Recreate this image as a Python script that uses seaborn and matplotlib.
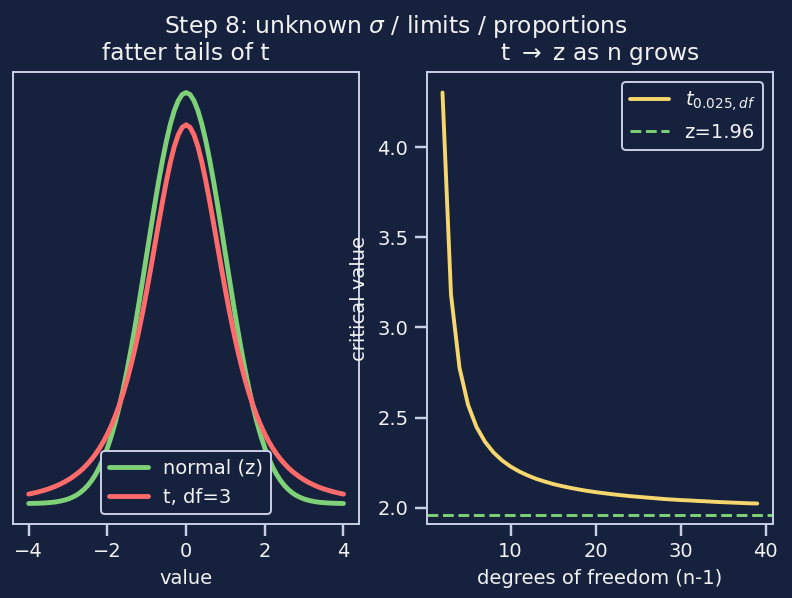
import pandas as pd
import matplotlib.pyplot as plt
import seaborn as sns

# ------------------------------------------------------------------
# Data
# ------------------------------------------------------------------
x_half = [0.0, 0.1, 0.2, 0.3, 0.4, 0.5, 0.6, 0.7, 0.8, 0.9, 1.0,
          1.1, 1.2, 1.3, 1.4, 1.5, 1.6, 1.7, 1.8, 1.9, 2.0,
          2.1, 2.2, 2.3, 2.4, 2.5, 2.6, 2.7, 2.8, 2.9, 3.0,
          3.1, 3.2, 3.3, 3.4, 3.5, 3.6, 3.7, 3.8, 3.9, 4.0]
normal_half = [0.3989, 0.3970, 0.3910, 0.3814, 0.3683, 0.3521, 0.3332, 0.3123,
               0.2897, 0.2661, 0.2420, 0.2179, 0.1942, 0.1714, 0.1497, 0.1295,
               0.1109, 0.0940, 0.0790, 0.0656, 0.0540, 0.0440, 0.0355, 0.0283,
               0.0224, 0.0175, 0.0136, 0.0104, 0.0079, 0.0060, 0.0044, 0.0033,
               0.0024, 0.0017, 0.0012, 0.0009, 0.0006, 0.0004, 0.0003, 0.0002,
               0.0001]
t3_half = [0.3676, 0.3651, 0.3579, 0.3465, 0.3313, 0.3132, 0.2930, 0.2716,
           0.2497, 0.2279, 0.2067, 0.1866, 0.1678, 0.1504, 0.1345, 0.1200,
           0.1070, 0.0954, 0.0850, 0.0757, 0.0675, 0.0602, 0.0538, 0.0481,
           0.0431, 0.0387, 0.0347, 0.0312, 0.0282, 0.0254, 0.0230, 0.0208,
           0.0189, 0.0171, 0.0156, 0.0142, 0.0130, 0.0119, 0.0109, 0.0100,
           0.0092]
# curves are symmetric around 0
x_vals = [-v for v in x_half[::-1]] + x_half[1:]
normal_pdf = normal_half[::-1] + normal_half[1:]
t3_pdf = t3_half[::-1] + t3_half[1:]

dof = list(range(2, 40))
t_crit = [4.303, 3.182, 2.776, 2.571, 2.447, 2.365, 2.306, 2.262, 2.228, 2.201,
          2.179, 2.160, 2.145, 2.131, 2.120, 2.110, 2.101, 2.093, 2.086, 2.080,
          2.074, 2.069, 2.064, 2.060, 2.056, 2.052, 2.048, 2.045, 2.042, 2.040,
          2.037, 2.035, 2.032, 2.030, 2.028, 2.026, 2.024, 2.023]
z_crit = 1.96

# ------------------------------------------------------------------
# Style
# ------------------------------------------------------------------
bg = '#16213e'
fg = '#f2f2f2'
edge = '#c9d0e6'
green = '#7fd177'
red = '#ff6b6b'
yellow = '#f5d76e'

sns.set_theme(style="dark")
plt.rcParams.update({
    'font.family': ['DejaVu Sans'],
    'figure.facecolor': bg,
    'axes.facecolor': bg,
    'axes.edgecolor': edge,
    'axes.labelcolor': fg,
    'text.color': fg,
    'xtick.color': edge,
    'ytick.color': edge,
    'xtick.labelcolor': fg,
    'ytick.labelcolor': fg,
    'xtick.bottom': True,
    'ytick.left': True,
    'font.size': 10,
    'axes.labelsize': 10,
    'xtick.labelsize': 10,
    'ytick.labelsize': 10,
    'legend.fontsize': 10,
})

fig, (ax1, ax2) = plt.subplots(1, 2, figsize=(792 / 140, 598 / 140), dpi=140)
fig.subplots_adjust(left=0.0164, right=0.976, top=0.8796, bottom=0.1237, wspace=0.195)

# ==================================================================
# left: densities
# ==================================================================
df_pdf = pd.DataFrame({'value': x_vals * 2,
                       'density': normal_pdf + t3_pdf,
                       'dist': ['normal (z)'] * len(x_vals) + ['t, df=3'] * len(x_vals)})
sns.lineplot(data=df_pdf, x='value', y='density', hue='dist',
             palette=[green, red], lw=2.5, ax=ax1)
ax1.set_yticks([])
ax1.set_ylabel('')
ax1.set_xlabel('value')
ax1.set_title('fatter tails of t', fontsize=12)
leg1 = ax1.legend(loc='lower center', facecolor=bg, edgecolor=edge, framealpha=1)
for t in leg1.get_texts():
    t.set_color(fg)

# ==================================================================
# right: critical values
# ==================================================================
sns.lineplot(x=dof, y=t_crit, color=yellow, lw=2, ax=ax2, label=r'$t_{0.025,df}$')
ylo, yhi = ax2.get_ylim()
ax2.axhline(z_crit, color=green, ls='--', lw=1.5, label='z=1.96')
ax2.set_ylim(ylo, yhi)
ax2.set_xlabel('degrees of freedom (n-1)')
ax2.set_ylabel('critical value')
ax2.set_title(r't $\rightarrow$ z as n grows', fontsize=12)
leg2 = ax2.legend(loc='upper right', facecolor=bg, edgecolor=edge, framealpha=1)
for t in leg2.get_texts():
    t.set_color(fg)

for ax in (ax1, ax2):
    ax.grid(False)
    for s in ax.spines.values():
        s.set_color(edge)
        s.set_linewidth(1)

fig.suptitle(r'Step 8: unknown $\sigma$ / limits / proportions', fontsize=12, y=0.979)
plt.savefig('out.png', dpi=140, facecolor=bg)
